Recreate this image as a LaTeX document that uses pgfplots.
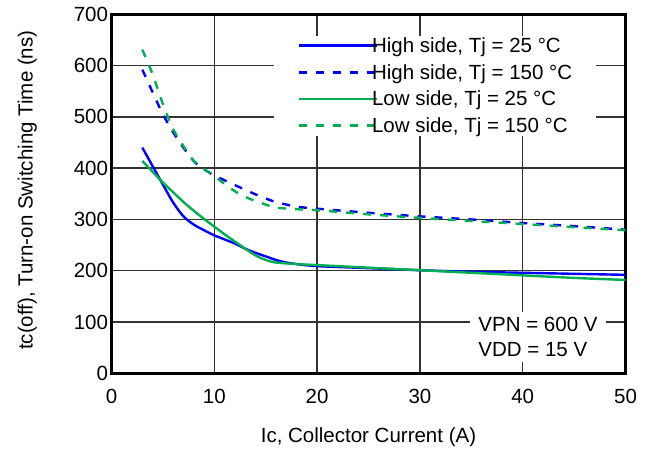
\documentclass[border=0pt]{standalone}
\usepackage{fontspec}
\setmainfont{Liberation Sans}
\usepackage{pgfplots}
\pgfplotsset{compat=1.18}
\definecolor{cblue}{RGB}{0,0,255}
\definecolor{cgreen}{RGB}{0,176,80}
\begin{document}
\begin{tikzpicture}
\useasboundingbox (-111.5pt,-76.7pt) rectangle (538.5pt,373.3pt);
\begin{axis}[
  scale only axis,
  width=514pt, height=359pt,
  xmin=0, xmax=50, ymin=0, ymax=700,
  xtick={0,10,...,50}, ytick={0,100,...,700},
  major tick length=0pt,
  grid=major,
  major grid style={black!80, line width=1.4pt},
  axis line style={black, line width=2.5pt},
  /pgf/number format/assume math mode=true,
  tick label style={font=\fontsize{20.5}{24}\selectfont},
  xticklabel style={yshift=-12pt},
  every axis x label/.style={at={(axis description cs:0.5,0)}, anchor=base, yshift=-69pt},
  every axis y label/.style={at={(axis description cs:-0.164,0.51)}, anchor=center, rotate=90},
  label style={font=\fontsize{20.5}{24}\selectfont},
  xlabel={Ic, Collector Current (A)},
  ylabel={tc(off), Turn-on Switching Time (ns)},
  legend cell align=left,
  legend style={at={(rel axis cs:0.315,0.9415)}, anchor=north west, fill=white, draw=none,
    inner xsep=24pt, inner ysep=2pt, row sep=10.3pt, column sep=-6pt,
    font=\fontsize{20.5}{24}\selectfont, nodes={inner sep=0pt}},
  legend image code/.code={\draw[#1] (0pt,0pt) -- (78pt,0pt);},
  every axis plot/.append style={line width=2.4pt},
  smooth, tension=0.5,
]
\addplot[cblue] coordinates {(3,440)(4,404)(5,368)(6,333)(7,306)(8,290)(9,279)(10,269)(11,261)(12,253)(13,243)(14,235)(15,228)(16,221)(17,216)(18,213)(20,209)(25,205)(30,201)(35,198)(40,196)(45,194)(50,192)};
\addlegendentry{High side, Tj = 25 °C}
\addplot[cblue, dash pattern=on 8pt off 9pt] coordinates {(3,592)(4,548)(5,505)(6,470)(7,440)(8,414)(9,398)(10,386)(12,367)(14,349)(15,341)(16,334)(18,325)(20,321)(25,313)(30,306)(35,300)(40,293)(45,287)(50,280)};
\addlegendentry{High side, Tj = 150 °C}
\addplot[cgreen] coordinates {(3,414)(4,393)(5,372)(6,353)(7,334)(8,317)(9,301)(10,286)(11,271)(12,257)(13,243)(14,230)(15,221)(16,216)(18,213)(20,211)(25,206)(30,201)(35,196)(40,191)(45,186)(50,182)};
\addlegendentry{Low side, Tj = 25 °C}
\addplot[cgreen, dash pattern=on 8pt off 9pt] coordinates {(3,631)(4,583)(5,525)(6,476)(7,443)(8,414)(9,398)(10,385)(11,369)(12,355)(13,344)(14,336)(15,329)(16,323)(18,320)(20,318)(25,310)(30,303)(35,297)(40,291)(45,285)(50,279)};
\addlegendentry{Low side, Tj = 150 °C}
\node[fill=white, anchor=north west, inner xsep=8pt, inner ysep=5pt, align=left,
  font=\fontsize{20.5}{25}\selectfont] at (axis cs:34.9,119) {VPN = 600 V\\VDD = 15 V};
\end{axis}
\end{tikzpicture}
\end{document}
